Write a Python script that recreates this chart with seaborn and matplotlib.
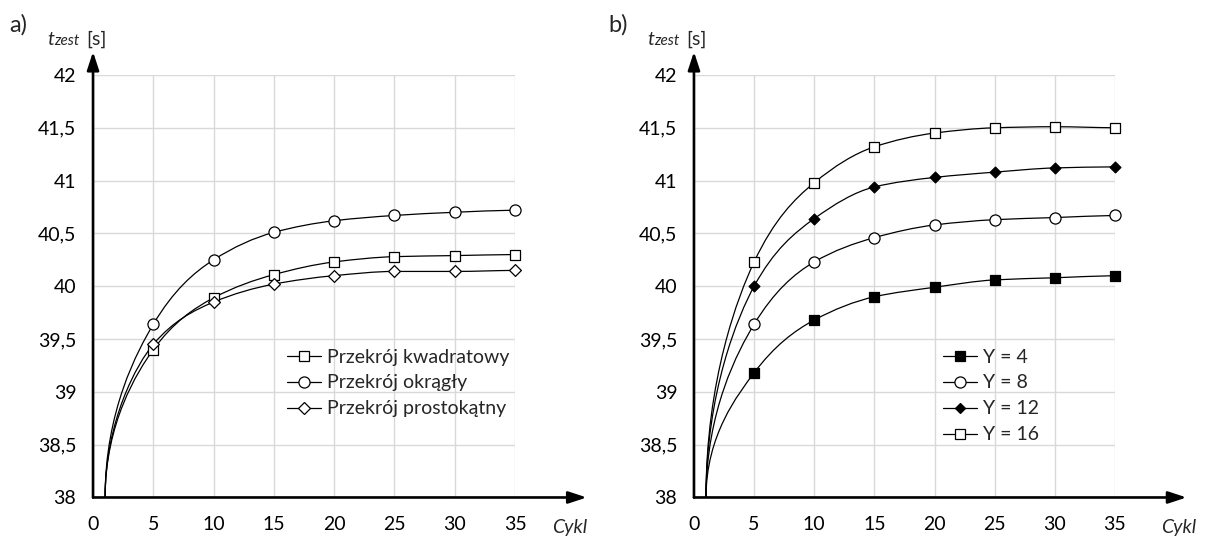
import numpy as np
import pandas as pd
import seaborn as sns
import matplotlib.pyplot as plt
from matplotlib.path import Path
from matplotlib.patches import PathPatch
from matplotlib.lines import Line2D

# Data (cycle 1 is the curve start, drawn without a marker)
cycles = [1, 5, 10, 15, 20, 25, 30, 35]

# a) cross-section shape
kwadratowy = [38.0, 39.40, 39.89, 40.11, 40.23, 40.28, 40.29, 40.30]
okragly = [38.0, 39.64, 40.25, 40.51, 40.62, 40.67, 40.70, 40.72]
prostokatny = [38.0, 39.45, 39.85, 40.02, 40.10, 40.14, 40.14, 40.15]
labels_a = ['Przekrój kwadratowy', 'Przekrój okrągły', 'Przekrój prostokątny']

# b) parameter Y
y4 = [38.0, 39.18, 39.68, 39.90, 39.99, 40.06, 40.08, 40.10]
y8 = [38.0, 39.64, 40.23, 40.46, 40.58, 40.63, 40.65, 40.67]
y12 = [38.0, 40.00, 40.64, 40.94, 41.03, 41.08, 41.12, 41.13]
y16 = [38.0, 40.23, 40.98, 41.32, 41.45, 41.50, 41.51, 41.50]
labels_b = ['Y = 4', 'Y = 8', 'Y = 12', 'Y = 16']

xticks = [0, 5, 10, 15, 20, 25, 30, 35]
yticks = [38, 38.5, 39, 39.5, 40, 40.5, 41, 41.5, 42]
ytick_labels = ['38', '38,5', '39', '39,5', '40', '40,5', '41', '41,5', '42']

sns.set_theme(style='white')
plt.rcParams['font.family'] = ['Lato', 'DejaVu Sans']


def smooth_path(xs, ys):
    # smooth Bezier line through the points, starting vertically
    x = np.asarray(xs, float)
    y = np.asarray(ys, float)
    n = len(x)
    h = np.diff(x)
    s = np.diff(y) / h
    m = np.zeros(n)
    for i in range(1, n - 1):
        if s[i - 1] * s[i] > 0:
            m[i] = 3 * (h[i - 1] + h[i]) / ((2 * h[i] + h[i - 1]) / s[i - 1]
                                            + (h[i] + 2 * h[i - 1]) / s[i])
    m[-1] = s[-1] * 0.5
    verts = [(x[0], y[0])]
    codes = [Path.MOVETO]
    for i in range(n - 1):
        if i == 0:
            c1 = (x[0], y[0] + 0.5 * (y[1] - y[0]))
        else:
            c1 = (x[i] + h[i] / 3, y[i] + m[i] * h[i] / 3)
        c2 = (x[i + 1] - h[i] / 3, y[i + 1] - m[i + 1] * h[i] / 3)
        verts += [c1, c2, (x[i + 1], y[i + 1])]
        codes += [Path.CURVE4] * 3
    return Path(verts, codes)


def draw_panel(ax, series, labels, styles, legend_xy, cykl_x):
    handles = []
    for vals, (marker, fc, ms) in zip(series, styles):
        ax.add_patch(PathPatch(smooth_path(cycles, vals), fill=False,
                               ec='black', lw=0.9, zorder=3))
        df = pd.DataFrame({'Cykl': cycles[1:], 't': vals[1:]})
        sns.scatterplot(data=df, x='Cykl', y='t', marker=marker, s=ms ** 2,
                        color=fc, edgecolor='black', linewidth=0.9,
                        clip_on=False, zorder=4, legend=False, ax=ax)
        handles.append(Line2D([], [], color='black', lw=0.9, marker=marker,
                              markersize=ms, markerfacecolor=fc,
                              markeredgecolor='black', markeredgewidth=0.9))

    ax.set_xlim(0, 35)
    ax.set_ylim(38, 42)
    ax.set_xticks(xticks)
    ax.set_yticks(yticks, ytick_labels)
    ax.set_xlabel('')
    ax.set_ylabel('')
    ax.grid(True, color='#d9d9d9', lw=1)
    ax.set_axisbelow(True)
    for sp in ax.spines.values():
        sp.set_visible(False)
    ax.tick_params(axis='both', length=4, width=1, color='#bfbfbf',
                   labelsize=14, labelcolor='black')
    ax.tick_params(axis='x', pad=9)
    ax.tick_params(axis='y', pad=8)

    # axis arrows
    arrow = dict(arrowstyle='-|>,head_length=1.1,head_width=0.36', lw=1.9,
                 color='black', shrinkA=0, shrinkB=0, mutation_scale=10)
    ax.annotate('', xy=(1.17, 0), xytext=(0, 0), xycoords='axes fraction',
                arrowprops=arrow, annotation_clip=False)
    ax.annotate('', xy=(0, 1.055), xytext=(0, 0), xycoords='axes fraction',
                arrowprops=arrow, annotation_clip=False)
    ax.text(cykl_x, -0.071, 'Cykl', transform=ax.transAxes, style='italic',
            fontsize=14, va='center', ha='left')

    ax.legend(handles, labels, loc='upper left', bbox_to_anchor=legend_xy,
              bbox_transform=fig.transFigure, frameon=False, borderpad=0,
              borderaxespad=0, handlelength=1.75, handletextpad=0.3,
              labelspacing=0.46, fontsize=14)


fig = plt.figure(figsize=(12.05, 5.37), dpi=100)
ax1 = fig.add_axes([0.0772, 0.0736, 0.3502, 0.7868])
ax2 = fig.add_axes([0.5759, 0.0736, 0.3494, 0.7868])

draw_panel(ax1, [kwadratowy, okragly, prostokatny], labels_a,
           [('s', 'white', 7.5), ('o', 'white', 8), ('D', 'white', 6)],
           (0.238, 0.351), 1.088)
draw_panel(ax2, [y4, y8, y12, y16], labels_b,
           [('s', 'black', 7.5), ('o', 'white', 8), ('D', 'black', 5.5),
            ('s', 'white', 7.3)],
           (0.7826, 0.351), 1.11)

# panel letters and y-axis titles
for x0, letter in [(0, 'a)'), (600, 'b)')]:
    fig.text((x0 + 18) / 1205, 1 - 25 / 537, letter, fontsize=17,
             ha='center', va='center')
    fig.text((x0 + 47) / 1205, 1 - 45 / 537, 't', fontsize=14,
             style='italic', va='baseline')
    fig.text((x0 + 54) / 1205, 1 - 45 / 537, 'zest', fontsize=11,
             style='italic', va='baseline')
    fig.text((x0 + 86) / 1205, 1 - 45 / 537, '[s]', fontsize=14,
             va='baseline')

fig.savefig('out.png', dpi=100)
